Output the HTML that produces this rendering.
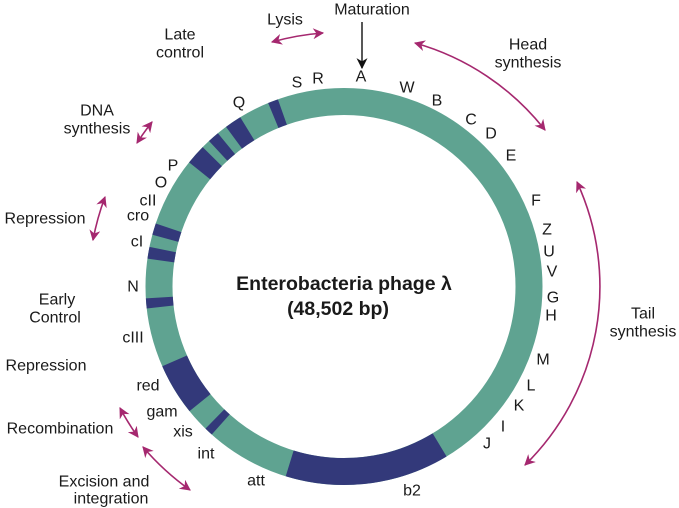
<!DOCTYPE html>
<html><head><meta charset="utf-8"><style>
html,body{margin:0;padding:0;background:#fff;}
svg{display:block;}
text{font-family:"Liberation Sans",Arial,sans-serif;fill:#1a1a1a;}
</style></head><body>
<svg width="679" height="508" viewBox="0 0 679 508" xmlns="http://www.w3.org/2000/svg">
<defs>
<marker id="m" viewBox="0 0 10 10" refX="9" refY="5" markerWidth="11" markerHeight="11" markerUnits="userSpaceOnUse" orient="auto-start-reverse">
<path d="M0,0 L10,5 L0,10 L3,5 z" fill="#a5286f"/></marker>
<marker id="mk" viewBox="0 0 10 10" refX="9" refY="5" markerWidth="11" markerHeight="11" markerUnits="userSpaceOnUse" orient="auto">
<path d="M0,0 L10,5 L0,10 L3,5 z" fill="#111"/></marker>
</defs>
<g transform="rotate(-90 344 286.5)" fill="none" stroke-width="27">
<circle cx="344" cy="286.5" r="185" stroke="#5fa391"/>
<g stroke="#33397a">
<circle cx="344" cy="286.5" r="185" stroke-dasharray="9.7 2000" stroke-dashoffset="-1089.4"/>
<circle cx="344" cy="286.5" r="185" stroke-dasharray="16 2000" stroke-dashoffset="-1044.2"/>
<circle cx="344" cy="286.5" r="185" stroke-dasharray="11 2000" stroke-dashoffset="-1023.6"/>
<circle cx="344" cy="286.5" r="185" stroke-dasharray="19 2000" stroke-dashoffset="-996.4"/>
<circle cx="344" cy="286.5" r="185" stroke-dasharray="11 2000" stroke-dashoffset="-920.2"/>
<circle cx="344" cy="286.5" r="185" stroke-dasharray="11 2000" stroke-dashoffset="-897.6"/>
<circle cx="344" cy="286.5" r="185" stroke-dasharray="9.5 2000" stroke-dashoffset="-850.8"/>
<circle cx="344" cy="286.5" r="185" stroke-dasharray="49 2000" stroke-dashoffset="-745.9"/>
<circle cx="344" cy="286.5" r="185" stroke-dasharray="8 2000" stroke-dashoffset="-715.8"/>
<circle cx="344" cy="286.5" r="185" stroke-dasharray="155.6 2000" stroke-dashoffset="-480.5"/>
</g></g>
<g fill="none" stroke="#a5286f" stroke-width="1.6" marker-start="url(#m)" marker-end="url(#m)">
<path d="M415,43 A252,252 0 0 1 545,130"/>
<path d="M577,182 A250,250 0 0 1 525,465"/>
<path d="M272,42 A257,257 0 0 1 323,33"/>
<path d="M137,143 A258,258 0 0 1 152,122"/>
<path d="M93,240 A261,261 0 0 1 105,197"/>
<path d="M138,437 A259,259 0 0 1 120,408"/>
<path d="M190,490 A260,260 0 0 1 143,447"/>
</g>
<line x1="362" y1="22" x2="362" y2="68" stroke="#111" stroke-width="1.4" marker-end="url(#mk)"/>
<g font-size="16" text-anchor="middle" dominant-baseline="central">
<text x="285" y="20">Lysis</text>
<text x="372" y="10">Maturation</text>
<text x="180" y="35">Late</text><text x="180" y="53">control</text>
<text x="528" y="45">Head</text><text x="528" y="63">synthesis</text>
<text x="97" y="111">DNA</text><text x="97" y="129">synthesis</text>
<text x="45" y="219">Repression</text>
<text x="57" y="300">Early</text><text x="55" y="318">Control</text>
<text x="46" y="366">Repression</text>
<text x="60" y="429">Recombination</text>
<text x="104" y="482">Excision and</text><text x="111" y="499">integration</text>
<text x="643" y="314">Tail</text><text x="643" y="332">synthesis</text>
<text x="297" y="83">S</text><text x="318" y="79">R</text><text x="361" y="77">A</text>
<text x="407" y="88">W</text><text x="437" y="101">B</text><text x="471" y="120">C</text>
<text x="491" y="134">D</text><text x="511" y="156">E</text><text x="536" y="201">F</text>
<text x="547" y="230">Z</text><text x="549" y="252">U</text><text x="552" y="272">V</text>
<text x="553" y="298">G</text><text x="551" y="316">H</text><text x="543" y="360">M</text>
<text x="531" y="386">L</text><text x="519" y="406">K</text><text x="503" y="427">I</text>
<text x="487" y="444">J</text><text x="412" y="491">b2</text><text x="256" y="481">att</text>
<text x="206" y="454">int</text><text x="183" y="432">xis</text><text x="162" y="412">gam</text>
<text x="148" y="386">red</text><text x="133" y="338">cIII</text><text x="133" y="287">N</text>
<text x="137" y="242">cI</text><text x="138" y="216">cro</text><text x="148" y="201">cII</text>
<text x="161" y="183">O</text><text x="173" y="166">P</text><text x="239" y="103">Q</text>
</g>
<g font-size="19.5" font-weight="bold" text-anchor="middle" dominant-baseline="central">
<text x="344" y="284">Enterobacteria phage λ</text>
<text x="338" y="309">(48,502 bp)</text>
</g>
</svg>
</body></html>
